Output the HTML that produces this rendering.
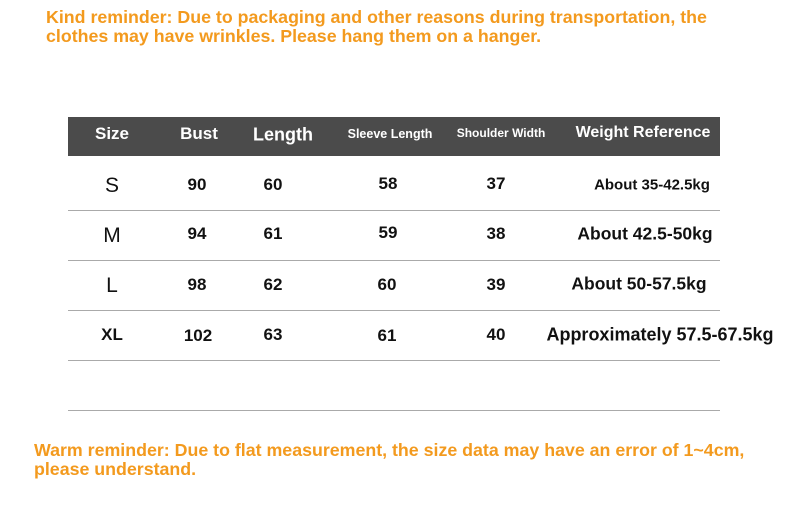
<html><head><style>
body{margin:0;width:790px;height:531px;background:#fff;position:relative;font-family:"Liberation Sans",sans-serif;overflow:hidden}
.o{position:absolute;color:#f39a1e;font-weight:bold;font-size:17.8px;line-height:19px;white-space:nowrap}
.h{position:absolute;left:68px;top:117px;width:652px;height:39px;background:#4b4b4b}
.t{position:absolute;font-weight:bold;transform:translate(-50%,-50%);white-space:nowrap;color:#111}
.w{color:#fff}
.l{position:absolute;left:68px;width:652px;height:1px;background:#aaa}
</style></head><body>
<div class="o" style="left:46px;top:8px">Kind reminder: Due to packaging and other reasons during transportation, the<br>clothes may have wrinkles. Please hang them on a hanger.</div>
<div class="h"></div>
<div class="t w" style="left:112px;top:134px;font-size:17px">Size</div>
<div class="t w" style="left:199px;top:134px;font-size:17px">Bust</div>
<div class="t w" style="left:283px;top:135px;font-size:18px">Length</div>
<div class="t w" style="left:390px;top:134px;font-size:12.5px">Sleeve Length</div>
<div class="t w" style="left:501px;top:133px;font-size:12px">Shoulder Width</div>
<div class="t w" style="left:643px;top:133px;font-size:16px">Weight Reference</div>
<div class="l" style="top:210px"></div><div class="l" style="top:260px"></div><div class="l" style="top:310px"></div><div class="l" style="top:360px"></div><div class="l" style="top:410px"></div>
<div class="t" style="left:112px;top:186px;font-size:21px;font-weight:normal">S</div>
<div class="t" style="left:197px;top:185px;font-size:17px">90</div>
<div class="t" style="left:273px;top:185px;font-size:17px">60</div>
<div class="t" style="left:388px;top:184px;font-size:17px">58</div>
<div class="t" style="left:496px;top:184px;font-size:17px">37</div>
<div class="t" style="left:652px;top:185px;font-size:15px">About 35-42.5kg</div>
<div class="t" style="left:112px;top:236px;font-size:21px;font-weight:normal">M</div>
<div class="t" style="left:197px;top:234px;font-size:17px">94</div>
<div class="t" style="left:273px;top:234px;font-size:17px">61</div>
<div class="t" style="left:388px;top:233px;font-size:17px">59</div>
<div class="t" style="left:496px;top:234px;font-size:17px">38</div>
<div class="t" style="left:645px;top:234px;font-size:17.5px">About 42.5-50kg</div>
<div class="t" style="left:112px;top:286px;font-size:21px;font-weight:normal">L</div>
<div class="t" style="left:197px;top:285px;font-size:17px">98</div>
<div class="t" style="left:273px;top:285px;font-size:17px">62</div>
<div class="t" style="left:387px;top:285px;font-size:17px">60</div>
<div class="t" style="left:496px;top:285px;font-size:17px">39</div>
<div class="t" style="left:639px;top:284px;font-size:17.5px">About 50-57.5kg</div>
<div class="t" style="left:112px;top:335px;font-size:17px">XL</div>
<div class="t" style="left:198px;top:336px;font-size:17px">102</div>
<div class="t" style="left:273px;top:335px;font-size:17px">63</div>
<div class="t" style="left:387px;top:336px;font-size:17px">61</div>
<div class="t" style="left:496px;top:335px;font-size:17px">40</div>
<div class="t" style="left:660px;top:335px;font-size:18px">Approximately 57.5-67.5kg</div>
<div class="o" style="left:34px;top:441px">Warm reminder: Due to flat measurement, the size data may have an error of 1~4cm,<br>please understand.</div>
</body></html>
